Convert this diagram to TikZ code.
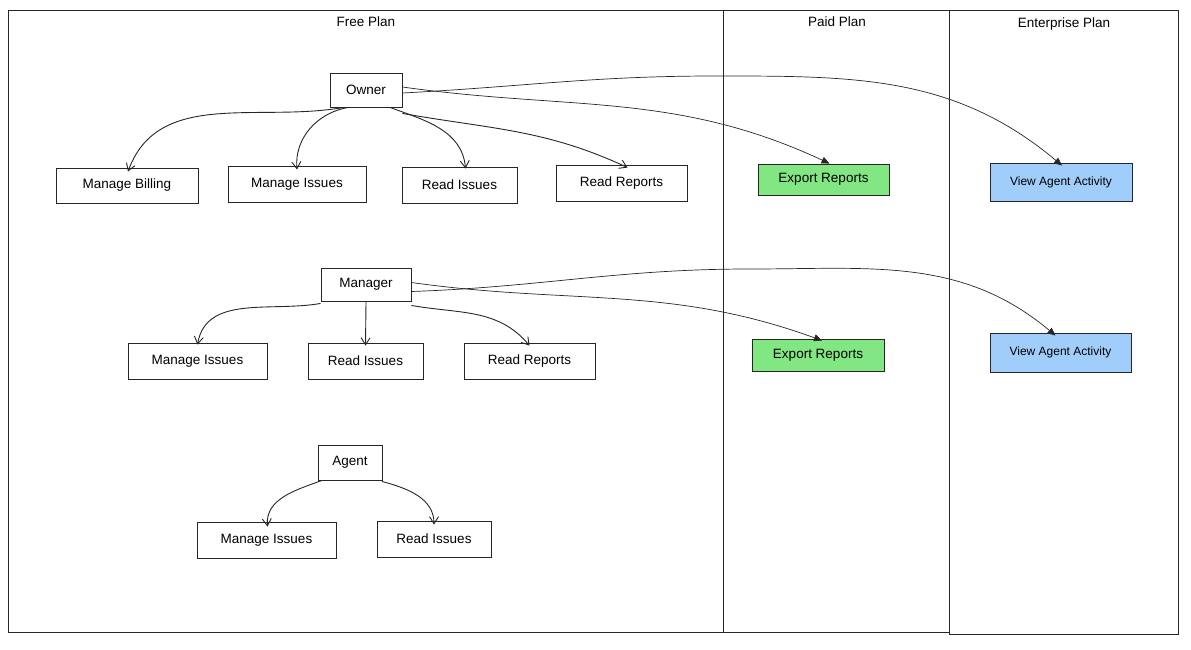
\documentclass[tikz,border=0pt]{standalone}
\usepackage{fontspec}
\setmainfont{Liberation Sans}
\usetikzlibrary{arrows.meta}
\begin{document}
\begin{tikzpicture}[x=1pt,y=-1pt,
  box/.style={draw=black!85,line width=0.9pt,font=\fontsize{13.5}{15}\selectfont,inner sep=0pt},
  open/.style={-{Straight Barb[length=7pt,width=9pt]},line width=0.9pt,black!85},
  solid/.style={-{Triangle[length=8pt,width=7pt]},line width=0.7pt,black!85},
  frame/.style={draw=black!85,line width=0.9pt},
  ttl/.style={font=\fontsize{13.5}{15}\selectfont}]
\useasboundingbox (0,0) rectangle (1191,650);
\draw[frame] (8,10) rectangle (723,632);
\draw[frame] (723,10) rectangle (949,632);
\draw[frame] (949,10) rectangle (1178,634);
\node[ttl] (t1) at (366,22) {Free Plan};
\node[ttl] (t2) at (837,22) {Paid Plan};
\node[ttl] (t3) at (1064,24) {Enterprise Plan};
% Owner row
\node[box,minimum width=72pt,minimum height=34pt] (owner) at (366,90) {Owner};
\node[box,minimum width=142pt,minimum height=35pt] (ob) at (127,185.5) {Manage Billing};
\node[box,minimum width=138pt,minimum height=36pt] (oi) at (297,184) {Manage Issues};
\node[box,minimum width=115pt,minimum height=36pt] (or) at (459.5,185) {Read Issues};
\node[box,minimum width=131pt,minimum height=36pt] (orr) at (621.5,183) {Read Reports};
\node[box,fill={rgb,255:red,130;green,230;blue,130},minimum width=131pt,minimum height=31pt] (oe) at (823.5,179.5) {Export Reports};
\node[box,fill={rgb,255:red,160;green,205;blue,250},minimum width=142pt,minimum height=38pt,font=\fontsize{12}{14}\selectfont] (ov) at (1061,182) {View Agent Activity};
% Manager row
\node[box,minimum width=90pt,minimum height=33pt] (mgr) at (366,284.5) {Manager};
\node[box,minimum width=139pt,minimum height=36pt] (mi) at (197.5,361) {Manage Issues};
\node[box,minimum width=115pt,minimum height=36pt] (mr) at (365.5,361) {Read Issues};
\node[box,minimum width=131pt,minimum height=36pt] (mrr) at (529.5,361) {Read Reports};
\node[box,fill={rgb,255:red,130;green,230;blue,130},minimum width=132pt,minimum height=32pt] (me) at (818,355) {Export Reports};
\node[box,fill={rgb,255:red,160;green,205;blue,250},minimum width=141pt,minimum height=39pt,font=\fontsize{12}{14}\selectfont] (mv) at (1060.5,352.5) {View Agent Activity};
% Agent row
\node[box,minimum width=64pt,minimum height=35pt] (agent) at (350,462.5) {Agent};
\node[box,minimum width=139pt,minimum height=36pt] (ai) at (266.5,540) {Manage Issues};
\node[box,minimum width=114pt,minimum height=36pt] (ar) at (434,539) {Read Issues};
\coordinate (c1) at (715,76);
\coordinate (c2) at (750,269);
% Owner arrows
\draw[open] ([xshift=14pt]owner.south west) to[out=190,in=70] ([xshift=1pt,yshift=-4pt]ob.north);
\draw[open] ([xshift=-18pt]owner.south) to[out=190,in=95] ([yshift=-4pt]oi.north);
\draw[open] ([xshift=24pt]owner.south) to[out=-20,in=95] ([xshift=6pt,yshift=-2pt]or.north);
\draw[open] ([yshift=-6pt]owner.south east) to[out=-10,in=155] ([xshift=6pt,yshift=-3pt]orr.north);
\draw[solid] ([yshift=3pt]owner.east) to[out=-8,in=155] ([xshift=6pt]oe.north);
\draw[solid] ([yshift=-3pt]owner.east) to[out=3,in=180] (c1) to[out=0,in=140] ([xshift=1pt,yshift=-3pt]ov.north);
% Manager arrows
\draw[open] ([yshift=-2pt]mgr.south west) to[out=190,in=80] ([yshift=-2pt]mi.north);
\draw[open] (mgr.south) -- ([yshift=-3pt]mr.north);
\draw[open] ([yshift=-4pt]mgr.south east) to[out=-10,in=130] ([yshift=-3pt]mrr.north);
\draw[solid] ([yshift=2pt]mgr.east) to[out=-8,in=160] ([xshift=4pt,yshift=-2pt]me.north);
\draw[solid] ([yshift=-7pt]mgr.east) to[out=2,in=180] (c2) to[out=0,in=140] ([xshift=-5pt,yshift=-3pt]mv.north);
% Agent arrows
\draw[open] ([xshift=-28pt]agent.south) to[out=200,in=95] ([xshift=1pt,yshift=-5pt]ai.north);
\draw[open] ([xshift=32pt,yshift=-1pt]agent.south) to[out=-15,in=90] ([yshift=-4pt]ar.north);
\end{tikzpicture}
\end{document}
